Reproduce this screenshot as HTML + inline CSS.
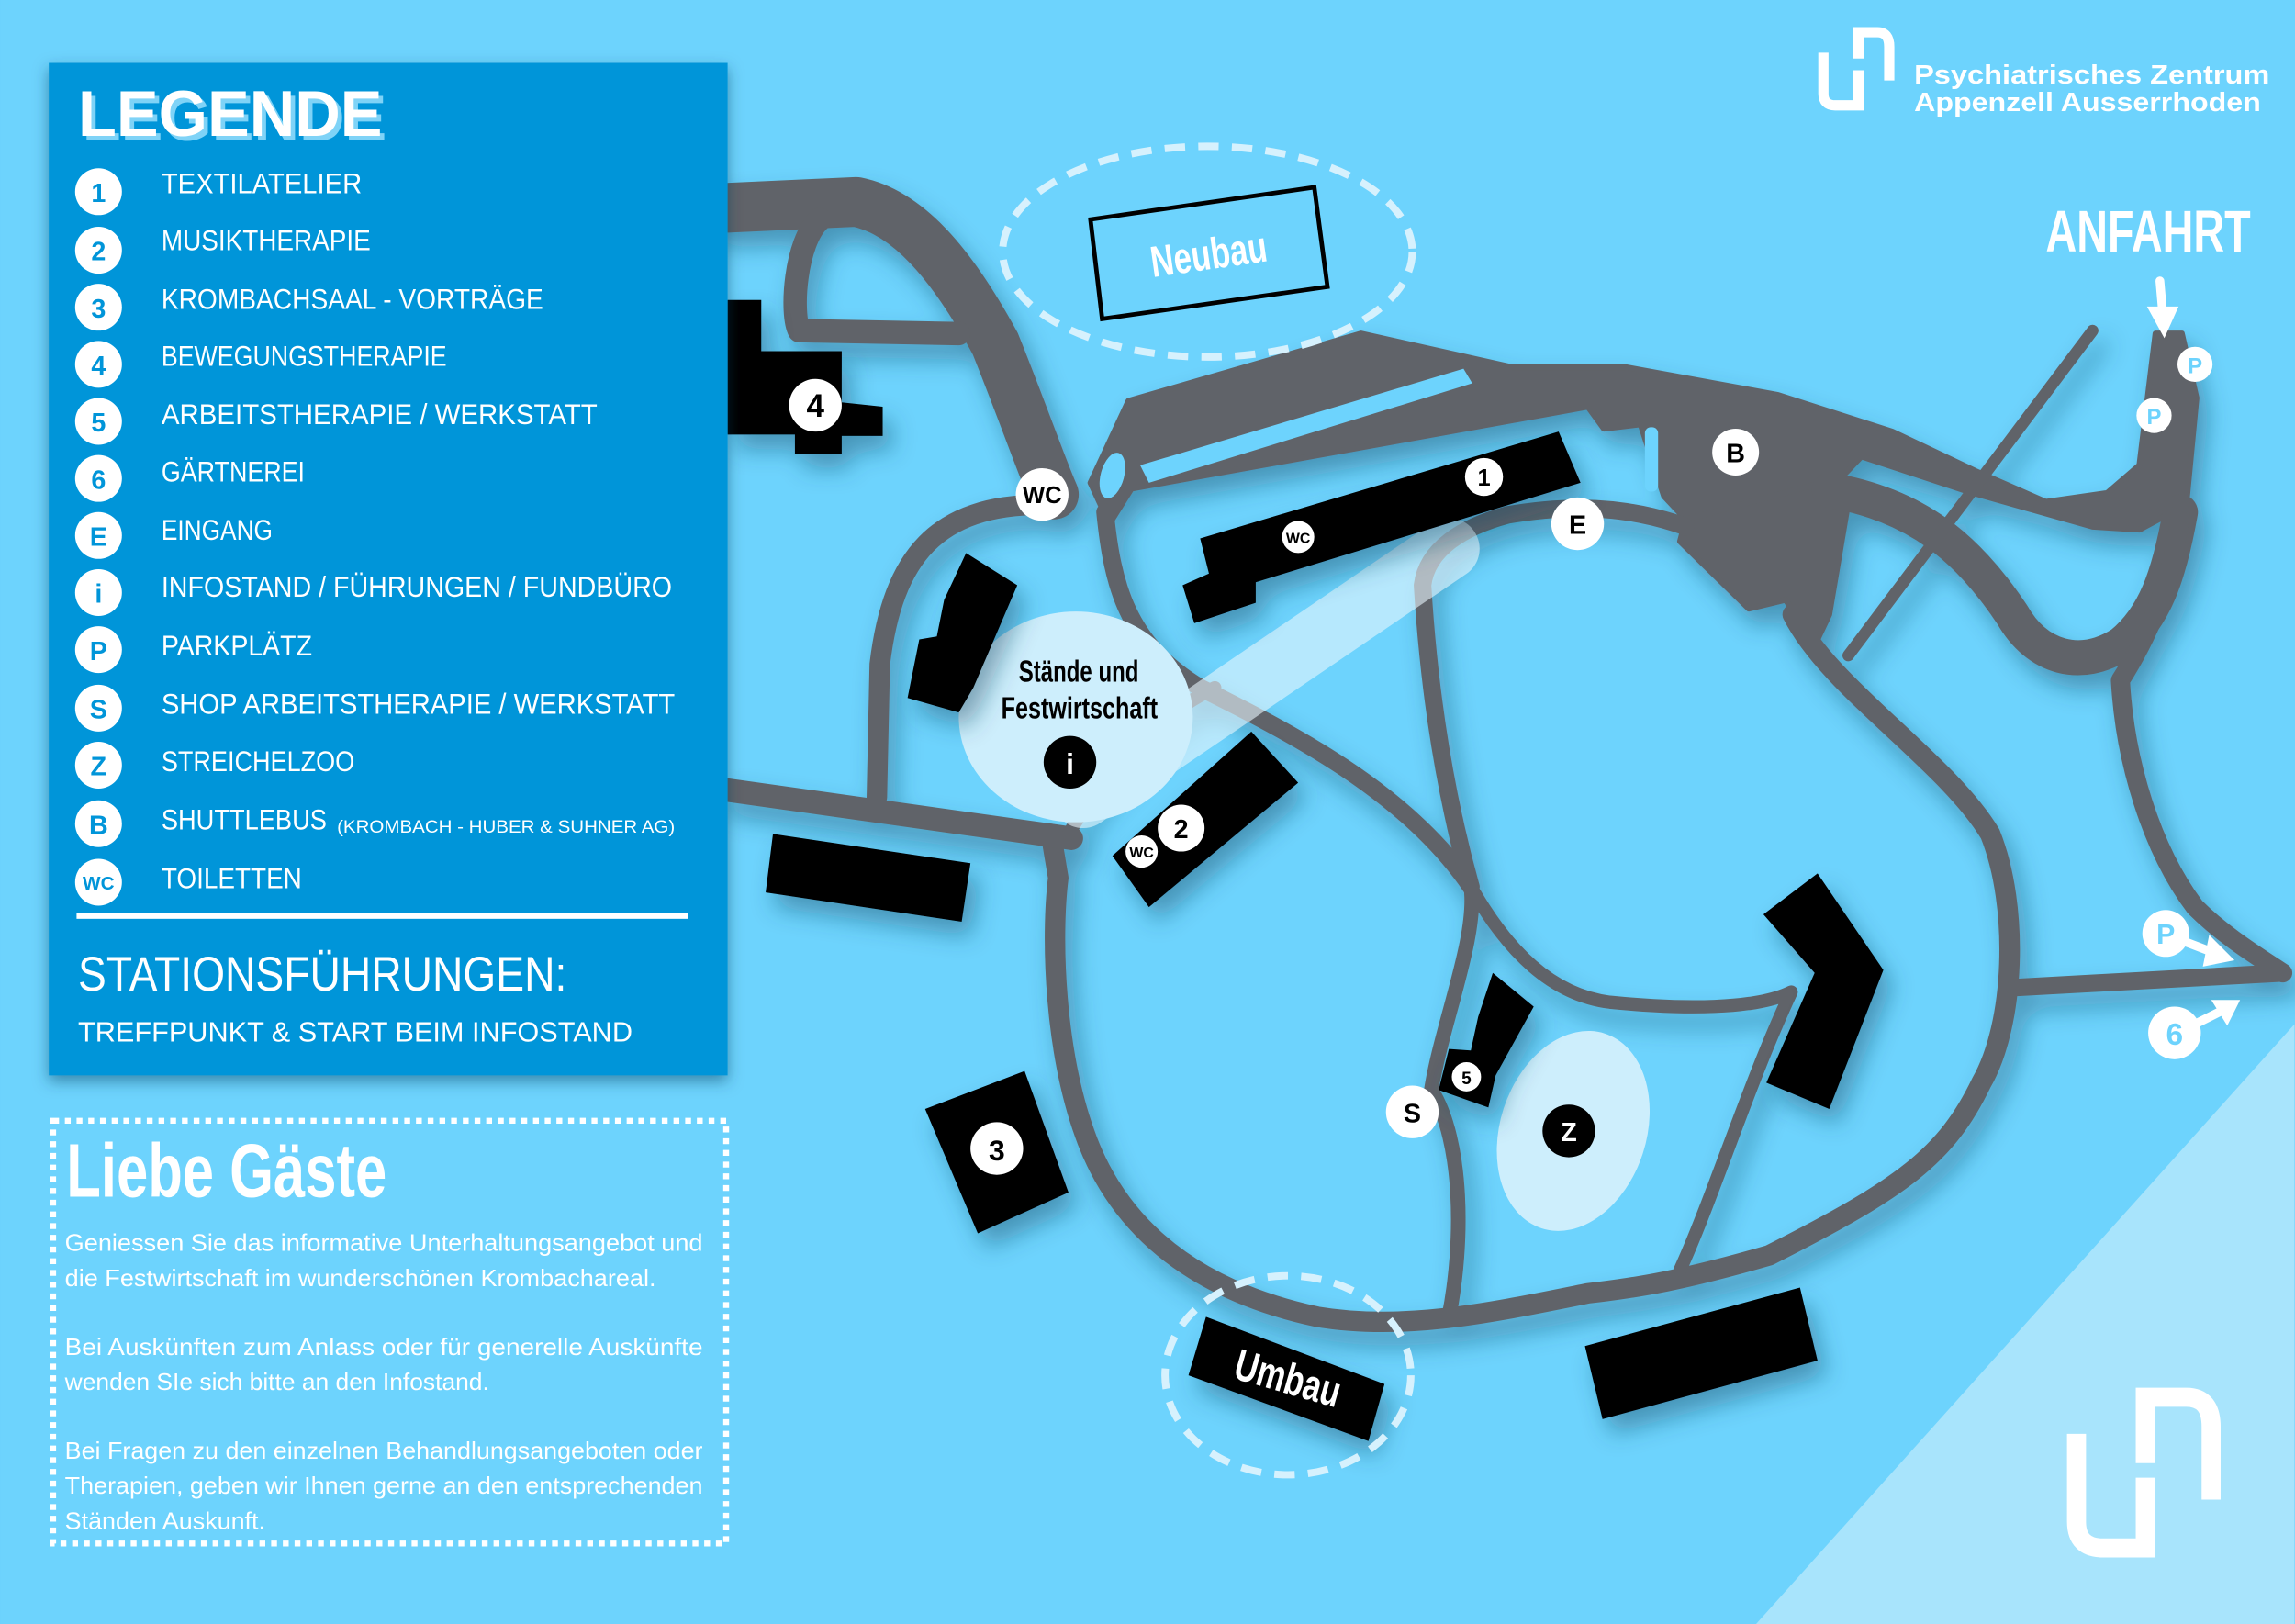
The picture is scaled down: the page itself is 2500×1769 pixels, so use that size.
<!DOCTYPE html>
<html><head><meta charset="utf-8"><style>
html,body{margin:0;padding:0;background:#6dd3fd;}
svg{display:block}
</style></head><body>
<svg width="2500" height="1769" viewBox="0 0 1568 1110" xmlns="http://www.w3.org/2000/svg" font-family="'Liberation Sans Narrow','Liberation Sans',sans-serif">
<defs>
<filter id="sh" x="-20%" y="-20%" width="140%" height="140%"><feDropShadow dx="6" dy="10" stdDeviation="8" flood-color="#1a4c66" flood-opacity="0.45"/></filter>
<filter id="sh2" x="-10%" y="-10%" width="130%" height="130%"><feDropShadow dx="0" dy="4" stdDeviation="5" flood-color="#003a5c" flood-opacity="0.5"/></filter>
</defs>
<rect width="1568" height="1110" fill="#6dd3fd"/>
<polygon points="1568,700 1568,1110 1200,1110" fill="#a8e4fc"/>

<!-- roads -->
<g filter="url(#sh)" fill="none" stroke="#606469" stroke-linecap="round" stroke-linejoin="round">
<path d="M497 142 L585 138 C620 145 650 180 680 235 C700 285 712 320 720 338" stroke-width="34"/>
<path d="M560 150 C543 165 540 215 546 226 L655 228" stroke-width="16"/>
<polygon points="745,330 771,274 930,228 1033,251 1111,251 1215,270 1293,295 1350,322 1398,343 1440,337 1462,318 1473,228 1491,228 1501,272 1494,345 1462,362 1430,360 1345,336 1272,312 1250,335 1152,355 1137,339 1121,290 1096,293 1085,278 773,334 758,358" fill="#606469" stroke="#606469" stroke-width="4"/>
<polygon points="1152,355 1245,330 1262,349 1250,420 1241,439 1220,410 1195,416 1148,370" fill="#606469" stroke="#606469" stroke-width="4"/>
<path d="M1250 335 C1310 345 1345 375 1375 420 C1392 450 1422 458 1450 440 C1472 422 1482 395 1490 350" stroke-width="24"/>
<path d="M1490 350 C1485 400 1465 440 1449 465 C1452 520 1470 580 1500 620 C1520 640 1545 655 1560 665" stroke-width="13"/>
<path d="M1430 226 L1263 448" stroke-width="8"/>
<path d="M1225 420 C1250 470 1330 520 1360 570 C1380 620 1377 700 1354 740 C1330 790 1300 812 1209 858 C1150 875 1120 880 1085 884 C1020 897 960 910 900 900 C830 885 770 850 743 780 C720 720 718 640 723 600 L718 570" stroke-width="14"/>
<path d="M1377 675 L1560 665" stroke-width="12"/>
<path d="M712 345 C640 345 610 380 601 454 L599 545" stroke-width="14"/>
<path d="M497 540 L732 573" stroke-width="16"/>
<path d="M755 350 C760 400 770 440 820 470 C880 500 960 540 1005 606" stroke-width="12"/>
<path d="M1152 360 C1110 345 1070 345 1030 352 C1000 360 975 375 972 400 C978 500 995 570 1005 606" stroke-width="12"/>
<path d="M1005 606 C1010 640 985 700 978 745 C1000 780 1000 850 990 900" stroke-width="10"/>
<path d="M1005 606 C1030 650 1060 680 1100 685 C1150 690 1200 690 1224 678 C1195 740 1170 820 1148 868" stroke-width="9"/>
<path d="M730 570 C760 520 790 490 830 470" stroke-width="9"/>
</g>
<!-- parking holes -->
<g fill="#6dd3fd">
<polygon points="779,318 1000,252 1006,262 785,330"/>
<ellipse cx="760" cy="325" rx="8" ry="16" transform="rotate(15 760 325)"/>
<rect x="1124" y="292" width="9" height="44" rx="4"/>
</g>

<!-- light zones -->
<path d="M740 545 L990 375" stroke="#e8f7fd" stroke-opacity="0.6" stroke-width="42" stroke-linecap="round" fill="none"/>
<ellipse cx="735" cy="490" rx="80" ry="72" fill="#cdeefc"/>
<ellipse cx="1075" cy="773" rx="50" ry="70" transform="rotate(18 1075 773)" fill="#cdeefc"/>

<!-- buildings -->
<g fill="#000" filter="url(#sh)">
<polygon points="497,205 520,205 520,240 575,240 575,275 603,278 603,298 575,298 575,310 543,310 543,297 497,297"/>
<polygon points="820,368 1065,295 1080,330 858,398 858,412 816,426 808,400 826,392"/>
<polygon points="660,378 695,400 665,470 655,487 620,477 628,437 640,435 645,410"/>
<polygon points="760,585 855,500 887,535 785,620"/>
<polygon points="528,570 663,590 657,630 523,610"/>
<polygon points="632,758 700,732 730,815 668,843"/>
<polygon points="1205,625 1242,597 1287,663 1250,758 1207,740 1240,665"/>
<polygon points="1020,665 1048,688 1022,735 1017,757 983,745 990,717 1005,718 1010,695"/>
<polygon points="824,900 946,946 935,985 812,940"/>
<polygon points="1083,920 1230,880 1242,930 1095,970"/>
</g>

<!-- neubau / umbau -->
<ellipse cx="825" cy="172" rx="140" ry="72" fill="none" stroke="#d6f1fd" stroke-width="5" stroke-dasharray="14 9"/>
<polygon points="745,150 898,128 907,196 753,218" fill="none" stroke="#000" stroke-width="3"/>
<text x="786" y="184" font-size="30" font-weight="bold" fill="#fff" textLength="80" lengthAdjust="spacingAndGlyphs" transform="rotate(-8 826 175)">Neubau</text>
<ellipse cx="880" cy="940" rx="84" ry="68" fill="none" stroke="#d6f1fd" stroke-width="5" stroke-dasharray="14 9"/>
<text x="843" y="952" font-size="30" font-weight="bold" fill="#fff" textLength="74" lengthAdjust="spacingAndGlyphs" transform="rotate(16 879 942)">Umbau</text>

<text x="696" y="466" font-size="21" font-weight="bold" fill="#000" textLength="82" lengthAdjust="spacingAndGlyphs">Stände und</text>
<text x="684" y="491" font-size="21" font-weight="bold" fill="#000" textLength="107" lengthAdjust="spacingAndGlyphs">Festwirtschaft</text>

<!-- markers -->
<g font-family="'Liberation Sans',sans-serif" font-weight="bold" text-anchor="middle">
<circle cx="557" cy="277" r="18" fill="#fff"/><text x="557" y="285" font-size="22">4</text>
<circle cx="712" cy="338" r="18" fill="#fff"/><text x="712" y="344" font-size="16">WC</text>
<circle cx="1014" cy="326" r="13" fill="#fff"/><text x="1014" y="332" font-size="16">1</text>
<circle cx="887" cy="367" r="11" fill="#fff"/><text x="887" y="371" font-size="10">WC</text>
<circle cx="1078" cy="358" r="18" fill="#fff"/><text x="1078" y="365" font-size="18">E</text>
<circle cx="1186" cy="309" r="16" fill="#fff"/><text x="1186" y="316" font-size="18">B</text>
<circle cx="731" cy="521" r="18" fill="#000"/><text x="731" y="529" font-size="20" fill="#fff">i</text>
<circle cx="807" cy="566" r="16" fill="#fff"/><text x="807" y="573" font-size="18">2</text>
<circle cx="780" cy="582" r="11" fill="#fff"/><text x="780" y="586" font-size="10">WC</text>
<circle cx="681" cy="785" r="18" fill="#fff"/><text x="681" y="793" font-size="20">3</text>
<circle cx="1002" cy="736" r="10" fill="#fff"/><text x="1002" y="741" font-size="12">5</text>
<circle cx="965" cy="760" r="18" fill="#fff"/><text x="965" y="767" font-size="18">S</text>
<circle cx="1072" cy="773" r="18" fill="#000"/><text x="1072" y="780" font-size="18" fill="#fff">Z</text>
<circle cx="1500" cy="249" r="12" fill="#fff"/><text x="1500" y="255" font-size="15" fill="#6dd3fd">P</text>
<circle cx="1472" cy="284" r="12" fill="#fff"/><text x="1472" y="290" font-size="15" fill="#6dd3fd">P</text>
<circle cx="1480" cy="638" r="16" fill="#fff"/><text x="1480" y="645" font-size="19" fill="#6dd3fd">P</text>
<circle cx="1486" cy="706" r="18" fill="#fff"/><text x="1486" y="714" font-size="21" fill="#6dd3fd">6</text>
</g>
<g stroke="#fff" stroke-width="6" fill="#fff" stroke-linecap="round">
<line x1="1494" y1="644" x2="1515" y2="652"/><polygon points="1510,640 1526,656 1506,660" stroke-width="1"/>
<line x1="1500" y1="700" x2="1520" y2="690"/><polygon points="1512,684 1530,684 1522,700" stroke-width="1"/>
<line x1="1476" y1="192" x2="1478" y2="215"/><polygon points="1468,210 1488,210 1479,230" stroke-width="1"/>
</g>
<text x="1398" y="172" font-size="40" font-weight="bold" fill="#fff" textLength="140" lengthAdjust="spacingAndGlyphs">ANFAHRT</text>

<!-- logo top -->
<g fill="none" stroke="#fff" stroke-width="7">
<path d="M1246 36 L1246 64 Q1246 72 1254 72 L1270 72 L1270 48"/>
<path d="M1270 40 L1270 22 L1283 22 Q1291 22 1291 32 L1291 55"/>
</g>
<g font-family="'Liberation Sans',sans-serif" font-weight="bold" fill="#fff">
<text x="1308" y="57" font-size="18" textLength="243" lengthAdjust="spacingAndGlyphs">Psychiatrisches Zentrum</text>
<text x="1308" y="76" font-size="18" textLength="237" lengthAdjust="spacingAndGlyphs">Appenzell Ausserrhoden</text>
</g>
<!-- logo bottom -->
<g fill="none" stroke="#fff" stroke-width="13">
<path d="M1419 980 L1419 1040 Q1419 1058 1437 1058 L1466 1058 L1466 1010"/>
<path d="M1466 1000 L1466 955 L1494 955 Q1511 955 1511 975 L1511 1025"/>
</g>

<!-- legend -->
<rect x="33" y="43" width="464" height="692" fill="#0095d9" filter="url(#sh2)"/>
<g font-family="'Liberation Sans',sans-serif" font-weight="bold">
<text x="56" y="96" font-size="44" fill="#7fd3f7" textLength="208" lengthAdjust="spacingAndGlyphs">LEGENDE</text>
<text x="53" y="93" font-size="44" fill="#fff" textLength="208" lengthAdjust="spacingAndGlyphs">LEGENDE</text>
</g>
<g fill="#fff">
<circle cx="67" cy="131" r="16"/><circle cx="67" cy="171" r="16"/><circle cx="67" cy="210" r="16"/><circle cx="67" cy="249" r="16"/>
<circle cx="67" cy="288" r="16"/><circle cx="67" cy="327" r="16"/><circle cx="67" cy="366" r="16"/><circle cx="67" cy="405" r="16"/>
<circle cx="67" cy="444" r="16"/><circle cx="67" cy="484" r="16"/><circle cx="67" cy="523" r="16"/><circle cx="67" cy="563" r="16"/><circle cx="67" cy="603" r="16"/>
</g>
<g font-family="'Liberation Sans',sans-serif" font-weight="bold" fill="#0095d9" text-anchor="middle" font-size="18">
<text x="67" y="138">1</text><text x="67" y="178">2</text><text x="67" y="217">3</text><text x="67" y="256">4</text>
<text x="67" y="295">5</text><text x="67" y="334">6</text><text x="67" y="373">E</text><text x="67" y="412">i</text>
<text x="67" y="451">P</text><text x="67" y="491">S</text><text x="67" y="530">Z</text><text x="67" y="570">B</text><text x="67" y="608" font-size="13">WC</text>
</g>
<g fill="#fff" font-size="20">
<text x="110" y="132" textLength="137" lengthAdjust="spacingAndGlyphs">TEXTILATELIER</text>
<text x="110" y="171" textLength="143" lengthAdjust="spacingAndGlyphs">MUSIKTHERAPIE</text>
<text x="110" y="211" textLength="261" lengthAdjust="spacingAndGlyphs">KROMBACHSAAL - VORTRÄGE</text>
<text x="110" y="250" textLength="195" lengthAdjust="spacingAndGlyphs">BEWEGUNGSTHERAPIE</text>
<text x="110" y="290" textLength="298" lengthAdjust="spacingAndGlyphs">ARBEITSTHERAPIE / WERKSTATT</text>
<text x="110" y="329" textLength="98" lengthAdjust="spacingAndGlyphs">GÄRTNEREI</text>
<text x="110" y="369" textLength="76" lengthAdjust="spacingAndGlyphs">EINGANG</text>
<text x="110" y="408" textLength="349" lengthAdjust="spacingAndGlyphs">INFOSTAND / FÜHRUNGEN / FUNDBÜRO</text>
<text x="110" y="448" textLength="103" lengthAdjust="spacingAndGlyphs">PARKPLÄTZ</text>
<text x="110" y="488" textLength="351" lengthAdjust="spacingAndGlyphs">SHOP ARBEITSTHERAPIE / WERKSTATT</text>
<text x="110" y="527" textLength="132" lengthAdjust="spacingAndGlyphs">STREICHELZOO</text>
<text x="110" y="567" textLength="113" lengthAdjust="spacingAndGlyphs">SHUTTLEBUS</text>
<text x="230" y="569" font-size="12" textLength="231" lengthAdjust="spacingAndGlyphs">(KROMBACH - HUBER &amp; SUHNER AG)</text>
<text x="110" y="607" textLength="96" lengthAdjust="spacingAndGlyphs">TOILETTEN</text>
</g>
<rect x="52" y="624" width="418" height="4" fill="#fff"/>
<text x="53" y="677" font-size="33" fill="#fff" textLength="334" lengthAdjust="spacingAndGlyphs">STATIONSFÜHRUNGEN:</text>
<text x="53" y="712" font-size="19" fill="#fff" textLength="379" lengthAdjust="spacingAndGlyphs">TREFFPUNKT &amp; START BEIM INFOSTAND</text>

<!-- liebe gaeste -->
<rect x="36" y="766" width="460" height="289" fill="none" stroke="#fff" stroke-width="4" stroke-dasharray="4 4"/>
<text x="45" y="818" font-size="52" font-weight="bold" fill="#fff" textLength="219" lengthAdjust="spacingAndGlyphs">Liebe Gäste</text>
<g font-family="'Liberation Sans',sans-serif" font-size="16.5" fill="#fff">
<text x="44" y="855" textLength="436" lengthAdjust="spacingAndGlyphs">Geniessen Sie das informative Unterhaltungsangebot und</text>
<text x="44" y="879" textLength="404" lengthAdjust="spacingAndGlyphs">die Festwirtschaft im wunderschönen Krombachareal.</text>
<text x="44" y="926" textLength="436" lengthAdjust="spacingAndGlyphs">Bei Auskünften zum Anlass oder für generelle Auskünfte</text>
<text x="44" y="950" textLength="290" lengthAdjust="spacingAndGlyphs">wenden SIe sich bitte an den Infostand.</text>
<text x="44" y="997" textLength="436" lengthAdjust="spacingAndGlyphs">Bei Fragen zu den einzelnen Behandlungsangeboten oder</text>
<text x="44" y="1021" textLength="436" lengthAdjust="spacingAndGlyphs">Therapien, geben wir Ihnen gerne an den entsprechenden</text>
<text x="44" y="1045" textLength="137" lengthAdjust="spacingAndGlyphs">Ständen Auskunft.</text>
</g>
</svg>
</body></html>
